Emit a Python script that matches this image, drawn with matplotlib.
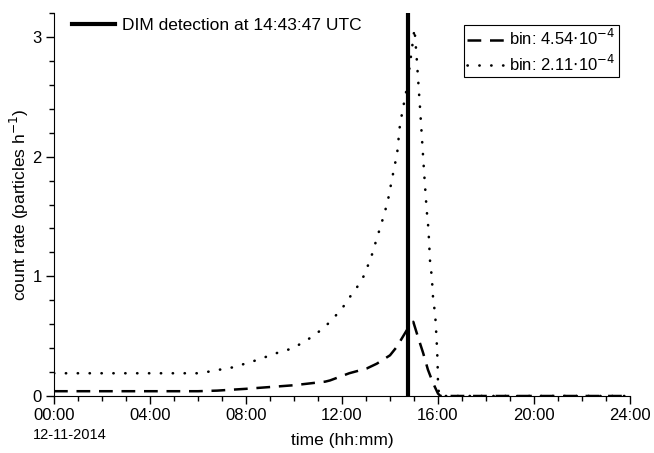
import matplotlib
matplotlib.use("Agg")
import matplotlib.pyplot as plt
from matplotlib.ticker import MultipleLocator, FuncFormatter

plt.rcParams['font.family'] = ['Liberation Sans', 'DejaVu Sans']

# time in hours since 00:00 UTC, 12-11-2014
t_coarse = [0, 2, 4, 6, 6.8, 8.0, 10.0, 11.3, 11.5, 12.3, 13.03, 13.45, 14.0, 14.28,
            14.7, 14.97, 15.17, 15.38, 15.58, 15.79, 16.0, 16.1, 18, 20, 22, 24]
rate_coarse = [0.04, 0.04, 0.04, 0.04, 0.045, 0.06, 0.09, 0.12, 0.13, 0.19, 0.23, 0.27, 0.34, 0.41,
               0.55, 0.62, 0.49, 0.36, 0.22, 0.11, 0.02, 0.0, 0.0, 0.0, 0.0, 0.0]

t_fine = [0, 2, 4, 6, 6.35, 6.9, 7.47, 7.96, 8.45, 9.3, 9.97, 10.8, 11.3, 11.64, 12.0, 12.3,
          12.6, 12.9, 13.1, 13.3, 13.45, 13.6, 13.9, 14.1, 14.3, 14.4, 14.5, 14.7, 14.9,
          15.02, 15.11, 15.18, 15.25, 15.32, 15.42, 15.53, 15.6, 15.67, 15.74, 15.8, 15.88,
          15.94, 15.98, 16.0, 16.05, 18, 20, 22, 24]
rate_fine = [0.19, 0.19, 0.19, 0.19, 0.2, 0.22, 0.24, 0.27, 0.3, 0.36, 0.4, 0.5, 0.58, 0.65,
             0.73, 0.82, 0.9, 1.0, 1.1, 1.21, 1.32, 1.41, 1.62, 1.83, 2.03, 2.24, 2.36, 2.57,
             2.88, 3.07, 2.83, 2.62, 2.41, 2.19, 1.87, 1.55, 1.4, 1.12, 1.0, 0.8, 0.69, 0.48,
             0.3, 0.1, 0.0, 0.0, 0.0, 0.0, 0.0]

dim_time = 14 + 43 / 60 + 47 / 3600

W, H = 654, 453
fig = plt.figure(figsize=(W / 100, H / 100), dpi=100)
ax = fig.add_axes([54 / W, 57 / H, 576 / W, 383 / H])

dim_line = ax.axvline(dim_time, color='black', lw=3.0, label='DIM detection at 14:43:47 UTC')
l1, = ax.plot(t_coarse, rate_coarse, color='black', lw=1.8, linestyle=(0, (5.5, 3.5)),
              label=r'bin: 4.54$\cdot$10$^{-4}$')
l2, = ax.plot(t_fine, rate_fine, color='black', lw=1.9, linestyle=(0, (0.1, 4.4)),
              dash_capstyle='round', label=r'bin: 2.11$\cdot$10$^{-4}$')

ax.set_xlim(0, 24)
ax.set_ylim(0, 3.2)

ax.spines['top'].set_visible(False)
ax.spines['right'].set_visible(False)

ax.xaxis.set_major_locator(MultipleLocator(4))
ax.xaxis.set_minor_locator(MultipleLocator(1))
ax.xaxis.set_major_formatter(FuncFormatter(lambda v, p: '%02d:00' % int(round(v))))
ax.yaxis.set_major_locator(MultipleLocator(1))
ax.yaxis.set_minor_locator(MultipleLocator(0.2))
ax.yaxis.set_major_formatter(FuncFormatter(lambda v, p: '%d' % int(round(v))))

ax.tick_params(which='major', direction='out', length=6, width=1, labelsize=12, pad=3)
ax.tick_params(which='minor', direction='out', length=3.5, width=1)

ax.set_xlabel('time (hh:mm)', fontsize=12.5, labelpad=7)
ax.set_ylabel(r'count rate (particles h$^{-1}$)', fontsize=12.5, labelpad=1)

fig.text(33 / W, 1 - 435 / H, '12-11-2014', fontsize=10.5, ha='left', va='center')

leg1 = ax.legend(handles=[dim_line], loc='upper left', frameon=False, fontsize=12.5,
                 handlelength=2.5, handletextpad=0.4, borderpad=0.0, borderaxespad=0,
                 bbox_to_anchor=(72 / W, 1 - 18 / H), bbox_transform=fig.transFigure)
ax.add_artist(leg1)
leg2 = ax.legend(handles=[l1, l2], loc='upper right', fontsize=12, fancybox=False,
                 edgecolor='black', framealpha=1, handlelength=2.3, handletextpad=0.25,
                 borderpad=0.2, labelspacing=0.3, borderaxespad=0,
                 bbox_to_anchor=(619 / W, 1 - 25 / H), bbox_transform=fig.transFigure)
leg2.get_frame().set_linewidth(0.8)

fig.savefig('out.png', dpi=100)
